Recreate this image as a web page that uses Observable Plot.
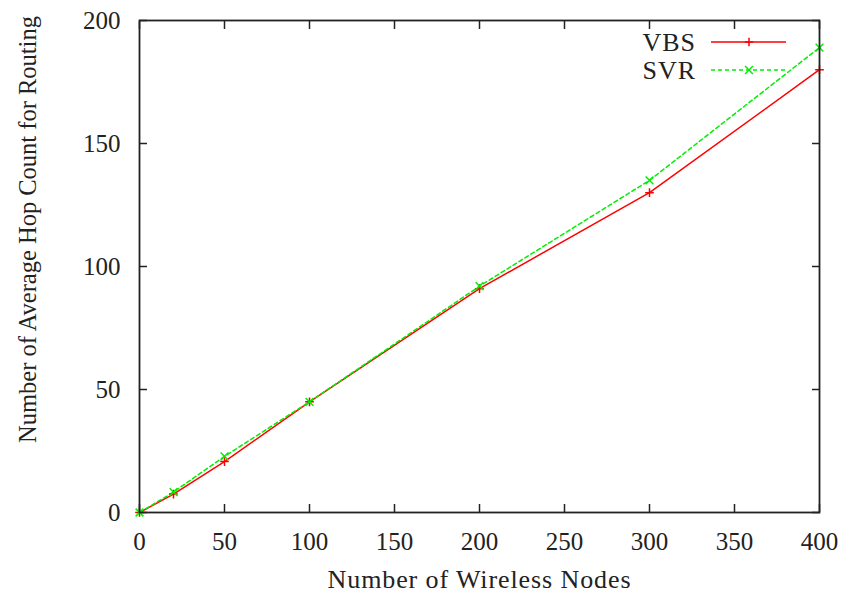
<!DOCTYPE html>
<html>
<head>
<meta charset="utf-8">
<script src="https://cdn.jsdelivr.net/npm/d3@7"></script>
<script src="https://cdn.jsdelivr.net/npm/@observablehq/plot@0.6"></script>
<style>
  html, body { margin: 0; padding: 0; background: #fff; }
</style>
</head>
<body>
<div id="chart"></div>
<script>
const nodes = [0, 20, 50, 100, 200, 300, 400];
const vbs = [0, 7.5, 20.7, 45, 91, 130, 180];
const svr = [0, 8.3, 22.8, 45, 92, 135, 189];
const xTicks = [0, 50, 100, 150, 200, 250, 300, 350, 400];
const yTicks = [0, 50, 100, 150, 200];
const seriesNames = ["VBS", "SVR"];

const vbsData = nodes.map((n, i) => ({x: n, y: vbs[i]}));
const svrData = nodes.map((n, i) => ({x: n, y: svr[i]}));

const font = "'Liberation Serif', 'Times New Roman', 'DejaVu Serif', serif";
const ink = "#222";

function legend(index, scales, values, dimensions) {
  const g = d3.create("svg:g");
  const right = dimensions.width - dimensions.marginRight;
  const top = dimensions.marginTop;
  const rows = [
    {name: seriesNames[0], color: "#ff0000", dash: null, sym: d3.symbolPlus, size: 26},
    {name: seriesNames[1], color: "#00ee00", dash: "4,3", sym: d3.symbolTimes, size: 42}
  ];
  rows.forEach((r, i) => {
    const cy = top + 22 + i * 28;
    g.append("text")
      .attr("x", right - 123).attr("y", cy).attr("dy", "0.33em")
      .attr("text-anchor", "end")
      .style("font-family", font).attr("font-size", 26)
      .attr("letter-spacing", 1)
      .attr("fill", ink).text(r.name);
    g.append("line")
      .attr("x1", right - 108).attr("x2", right - 33)
      .attr("y1", cy).attr("y2", cy)
      .attr("stroke", r.color).attr("stroke-width", 1.5)
      .attr("stroke-dasharray", r.dash);
    g.append("path")
      .attr("transform", `translate(${right - 70},${cy})`)
      .attr("d", d3.symbol(r.sym, r.size)())
      .attr("fill", "none").attr("stroke", r.color).attr("stroke-width", 1.5);
  });
  return g.node();
}

const chart = Plot.plot({
  width: 846,
  height: 594,
  marginLeft: 139,
  marginRight: 27,
  marginTop: 20,
  marginBottom: 82,
  style: {fontFamily: font, background: "#fff"},
  x: {domain: [0, 400]},
  y: {domain: [0, 200]},
  marks: [
    Plot.axisX({ticks: xTicks, tickSize: -8, tickPadding: 37, fontSize: 25, lineAnchor: "middle", stroke: ink, fill: ink, strokeWidth: 1.5, label: null}),
    Plot.axisX({anchor: "top", ticks: xTicks, tickSize: -8, tickFormat: () => "", stroke: ink, strokeWidth: 1.5, label: null}),
    Plot.axisY({ticks: yTicks, tickSize: -8, tickPadding: 27, fontSize: 25, stroke: ink, fill: ink, strokeWidth: 1.5, label: null}),
    Plot.axisY({anchor: "right", ticks: yTicks, tickSize: -8, tickFormat: () => "", stroke: ink, strokeWidth: 1.5, label: null}),
    Plot.line(vbsData, {x: "x", y: "y", stroke: "#ff0000", strokeWidth: 1.5}),
    Plot.line(svrData, {x: "x", y: "y", stroke: "#00ee00", strokeWidth: 1.5, strokeDasharray: "4,3"}),
    Plot.dot(vbsData, {x: "x", y: "y", symbol: "plus", r: 2.9, stroke: "#ff0000", strokeWidth: 1.5}),
    Plot.dot(svrData, {x: "x", y: "y", symbol: "times", r: 3.6, stroke: "#00ee00", strokeWidth: 1.5}),
    Plot.frame({stroke: ink, strokeWidth: 1.8}),
    Plot.text(["Number of Wireless Nodes"], {frameAnchor: "bottom", dy: 67, fontSize: 26, fill: ink, textAnchor: "middle", lineAnchor: "middle", className: "xtitle"}),
    Plot.text(["Number of Average Hop Count for Routing"], {frameAnchor: "left", dx: -111, dy: -37, rotate: -90, fontSize: 24.5, fill: ink, textAnchor: "middle", lineAnchor: "middle"}),
    legend
  ]
});
d3.select(chart).selectAll(".xtitle text").attr("letter-spacing", 0.9);
document.getElementById("chart").appendChild(chart);
</script>
</body>
</html>
